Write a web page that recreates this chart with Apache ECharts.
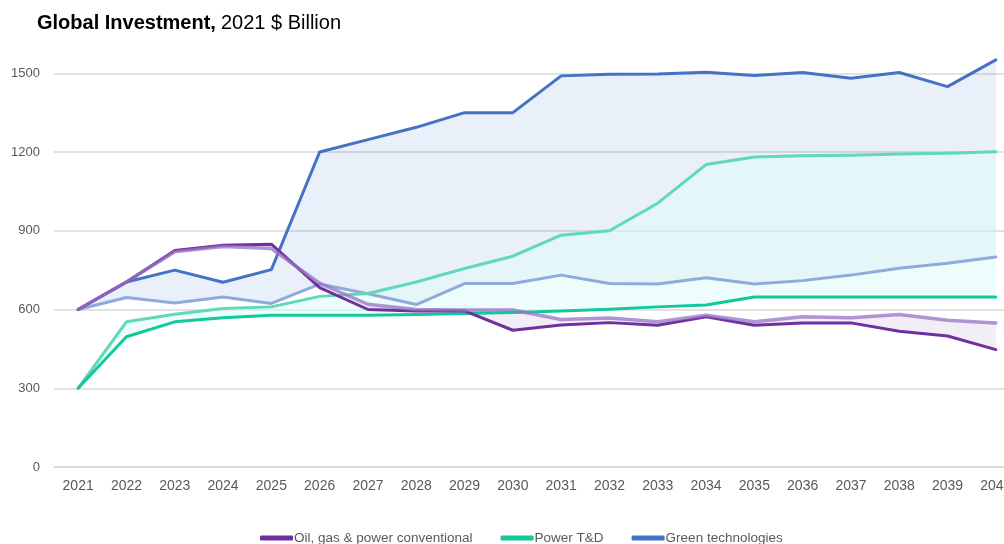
<!DOCTYPE html>
<html>
<head>
<meta charset="utf-8">
<script src="https://cdn.jsdelivr.net/npm/echarts@6/dist/echarts.min.js"></script>
<style>
html,body{margin:0;padding:0;background:#fff;}
#chart{width:1004px;height:544px;}
</style>
</head>
<body>
<div id="chart"></div>
<script>
// ---- data ----
var years = ['2021','2022','2023','2024','2025','2026','2027','2028','2029','2030','2031','2032','2033','2034','2035','2036','2037','2038','2039','2040'];
var yTicks = [0, 300, 600, 900, 1200, 1500];

// Oil, gas & power conventional (two scenario lines)
var oilDark  = [600,705,825,845,849,683,600,594,595,521,541,550,540,572,540,549,549,517,499,447];
var oilLight = [600,705,820,840,832,700,620,600,598,598,562,568,553,578,553,572,569,581,559,549];

// Power T&D
var ptdDark  = [300,496,553,569,578,578,578,581,585,589,594,601,610,617,648,648,648,648,648,648];
var ptdLight = [300,553,582,604,610,650,661,705,756,803,883,900,1005,1152,1181,1186,1188,1192,1195,1201];

// Green technologies
var gtDark   = [600,705,750,704,752,1200,1247,1294,1350,1350,1490,1496,1497,1504,1491,1503,1481,1503,1449,1551];
var gtLight  = [600,646,625,648,623,697,660,619,699,699,731,699,697,721,697,710,731,757,776,800];

var names = ['Oil, gas & power conventional', 'Power T&D', 'Green technologies'];

// ---- build ----
function lower(a, b) { return a.map(function (v, i) { return Math.min(v, b[i]); }); }
function spread(a, b) { return a.map(function (v, i) { return Math.abs(v - b[i]); }); }

var FONT = "'Liberation Sans', Arial, sans-serif";
var TXT = '#595959';

function band(id, a, b, fill) {
  return [
    { name: id + '_base', type: 'line', stack: id, data: lower(a, b), showSymbol: false, silent: true,
      lineStyle: { width: 0, opacity: 0 }, z: 1 },
    { name: id + '_band', type: 'line', stack: id, data: spread(a, b), showSymbol: false, silent: true,
      lineStyle: { width: 0, opacity: 0 }, areaStyle: { color: fill, opacity: 1 }, z: 1 }
  ];
}
function line(name, data, color, width, z) {
  return { name: name, type: 'line', data: data, showSymbol: false, symbol: 'none',
    lineStyle: { color: color, width: width, join: 'round', cap: 'round' }, itemStyle: { color: color }, z: z };
}

var series = []
  .concat(band('gt', gtDark, gtLight, 'rgba(68,114,196,0.11)'))
  .concat(band('ptd', ptdDark, ptdLight, 'rgba(222,251,247,0.55)'))
  .concat(band('oil', oilDark, oilLight, 'rgba(112,48,160,0.085)'))
  .concat([
    line(names[2] + ' (alt)', gtLight, '#8FAADC', 3, 3),
    line(names[1] + ' (alt)', ptdLight, '#5FD9BA', 3, 3),
    line(names[2], gtDark, '#4472C4', 3, 4),
    line(names[1], ptdDark, '#11C99A', 3, 4),
    line(names[0], oilDark, '#7030A0', 3, 5),
    line(names[0] + ' (alt)', oilLight, 'rgba(150,115,195,0.75)', 3.5, 6)
  ]);

var chart = echarts.init(document.getElementById('chart'), null, { renderer: 'canvas' });
chart.setOption({
  animation: false,
  backgroundColor: '#ffffff',
  textStyle: { fontFamily: FONT },
  title: {
    left: 32, top: 8,
    text: '{b|Global Investment,} {r|2021 $ Billion}',
    textStyle: {
      rich: {
        b: { fontFamily: FONT, fontSize: 20, fontWeight: 'bold', color: '#000' },
        r: { fontFamily: FONT, fontSize: 20, fontWeight: 'normal', color: '#000' }
      }
    }
  },
  legend: {
    data: names,
    left: 255, top: 526,
    icon: 'roundRect', itemWidth: 33, itemHeight: 5, itemGap: 28,
    textStyle: { fontFamily: FONT, fontSize: 13.5, color: TXT, padding: [0, 0, 0, -4] }
  },
  grid: { left: 54, width: 966, top: 47, bottom: 77, containLabel: false, outerBoundsMode: 'none' },
  xAxis: {
    type: 'category', data: years, boundaryGap: true,
    axisLine: { show: true, lineStyle: { color: '#D9D9D9', width: 1.5 } },
    axisTick: { show: false },
    axisLabel: { interval: 0, margin: 12, fontFamily: FONT, fontSize: 14, color: TXT }
  },
  yAxis: {
    type: 'value', min: yTicks[0], max: 1600, interval: yTicks[1] - yTicks[0],
    axisLine: { show: false }, axisTick: { show: false },
    axisLabel: { margin: 14, fontFamily: FONT, fontSize: 13, color: TXT, showMaxLabel: false,
      formatter: function (v) { return String(v); } },
    splitLine: { show: true, showMaxLine: false, lineStyle: { color: '#D9D9D9', width: 1.5 } }
  },
  series: series
});
</script>
</body>
</html>
